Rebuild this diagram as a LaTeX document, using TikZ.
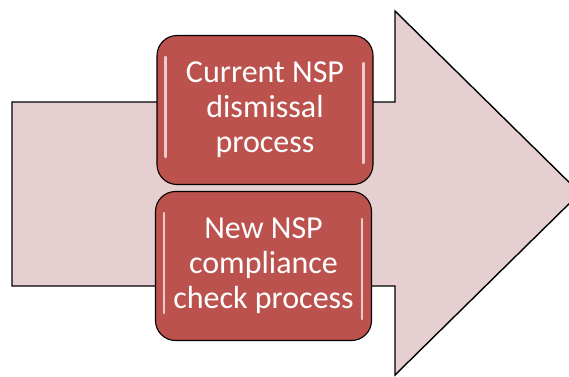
\documentclass[tikz,border=0pt]{standalone}
\usepackage{fontspec}
\setmainfont{Carlito}
\begin{document}
\begin{tikzpicture}[x=1pt,y=-1pt,
  bigarrow/.style={draw=black,line width=1.4pt,fill=arrowpink,line join=miter},
  procbox/.style={draw=black,line width=1.1pt,fill=boxred,rounded corners=20pt,
    minimum width=216pt,minimum height=149pt,inner sep=0pt,
    text=white,align=center,font=\fontsize{32}{35}\selectfont},
  gloss/.style={white,opacity=0.7,line width=2.2pt,line cap=round}]
\definecolor{arrowpink}{HTML}{E6CFD0}
\definecolor{boxred}{HTML}{BC524E}
\useasboundingbox (0,0) rectangle (569,376);
\begin{scope}
\clip (0,0) rectangle (569,376);
\draw[bigarrow] (12,102) -- (395,102) -- (395,11) -- (580,193) -- (395,375) -- (395,286) -- (12,286) -- cycle;
\end{scope}
\node[procbox] (b1) at (265,110) {Current NSP\\dismissal\\process};
\node[procbox] (b2) at (263.5,266) {New NSP\\compliance\\check process};
\foreach \b in {b1,b2}{
  \draw[gloss] ([xshift=9pt,yshift=-22pt]\b.north west) -- ([xshift=9pt,yshift=28pt]\b.south west);
  \draw[gloss] ([xshift=-10pt,yshift=-28pt]\b.north east) -- ([xshift=-10pt,yshift=22pt]\b.south east);
}
\end{tikzpicture}
\end{document}
